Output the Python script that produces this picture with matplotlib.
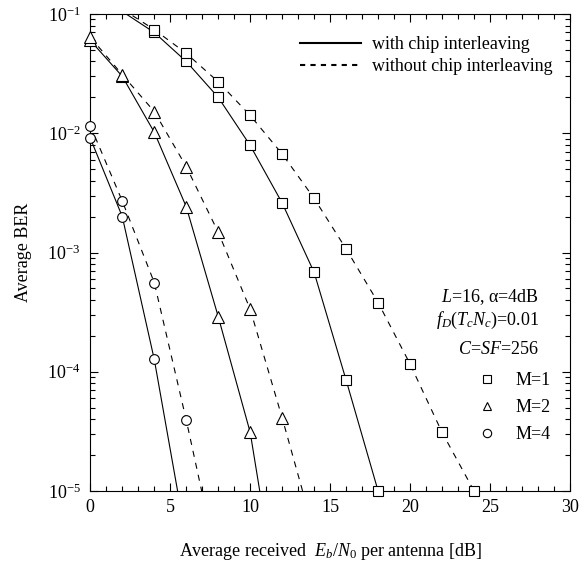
import numpy as np
import matplotlib
matplotlib.use('Agg')
import matplotlib.pyplot as plt
from matplotlib.lines import Line2D
from matplotlib.ticker import LogLocator, MultipleLocator, NullFormatter

plt.rcParams['font.family'] = ['Liberation Serif', 'DejaVu Serif']
plt.rcParams['mathtext.fontset'] = 'custom'
plt.rcParams['mathtext.rm'] = 'Liberation Serif'
plt.rcParams['mathtext.it'] = 'Liberation Serif:italic'
plt.rcParams['font.size'] = 13

# BER curves (Eb/N0 in dB)
m1_with_x = [2, 4, 6, 8, 10, 12, 14, 16, 18]
m1_with = [0.105, 0.070, 0.040, 0.020, 0.0079, 0.0026, 0.00068, 8.5e-5, 1e-5]
m1_without_x = [2, 4, 6, 8, 10, 12, 14, 16, 18, 20, 22, 24]
m1_without = [0.11, 0.074, 0.0468, 0.027, 0.0141, 0.0067, 0.00284, 0.00107,
              3.8e-4, 1.16e-4, 3.1e-5, 1e-5]

m2_with_x = [0, 2, 4, 6, 8, 10, 12]
m2_with = [0.060, 0.030, 0.0102, 0.00242, 2.9e-4, 3.1e-5, 7e-7]
m2_without_x = [0, 2, 4, 6, 8, 10, 12, 14]
m2_without = [0.064, 0.031, 0.0152, 0.00525, 0.00148, 3.34e-4, 4.1e-5, 4.5e-6]

m4_with_x = [0, 2, 4, 6]
m4_with = [0.0091, 0.0020, 1.27e-4, 3.9e-6]
m4_without_x = [0, 2, 4, 6, 8]
m4_without = [0.0116, 0.0027, 5.6e-4, 3.94e-5, 2.3e-6]

ymin, ymax = 1e-5, 1e-1

fig = plt.figure(figsize=(5.88, 5.67), dpi=100)
ax = fig.add_axes([90.3 / 588, 76 / 567, 479.7 / 588, 477 / 567])


def curve(x, y, marker, ms, dashed):
    x = np.array(x)
    y = np.array(y)
    ls = '--' if dashed else '-'
    line, = ax.plot(x, y, ls, color='black', lw=0.8)
    if dashed:
        line.set_dashes((5.5, 5.5))
    keep = (y >= ymin * 0.999) & (y <= ymax)
    ax.plot(x[keep], y[keep], ls='none', marker=marker, ms=ms, mfc='white',
            mec='black', mew=0.8, clip_on=False, zorder=3)


curve(m1_with_x, m1_with, 's', 7.5, False)
curve(m1_without_x, m1_without, 's', 7.5, True)
curve(m2_with_x, m2_with, '^', 8, False)
curve(m2_without_x, m2_without, '^', 8, True)
curve(m4_with_x, m4_with, 'o', 7, False)
curve(m4_without_x, m4_without, 'o', 7, True)

ax.set_yscale('log')
ax.set_xlim(0, 30)
ax.set_ylim(ymin, ymax)
ax.xaxis.set_major_locator(MultipleLocator(5))
ax.xaxis.set_minor_locator(MultipleLocator(1))
ax.yaxis.set_major_locator(LogLocator(base=10, numticks=10))
ax.yaxis.set_minor_locator(LogLocator(base=10, subs=np.arange(2, 10), numticks=10))
ax.yaxis.set_minor_formatter(NullFormatter())
ax.tick_params(which='both', direction='in', top=True, right=True, labelsize=13)
ax.tick_params(which='major', length=6, width=0.8)
ax.tick_params(which='minor', length=3.5, width=0.8)
ax.tick_params(axis='x', pad=6)
ax.tick_params(axis='y', pad=7)
for s in ax.spines.values():
    s.set_linewidth(0.8)

ax.set_xlabel('Average received  $E_b/N_0$ per antenna [dB]', fontsize=13, labelpad=18)
ax.set_ylabel('Average BER', fontsize=13, labelpad=11)

# line style legend
h1 = [Line2D([], [], color='black', lw=1.5),
      Line2D([], [], color='black', lw=1.5, dashes=(2.5, 2.5))]
leg1 = ax.legend(h1, ['with chip interleaving', 'without chip interleaving'],
                 loc='upper left', bbox_to_anchor=((300 - 90.3) / 479.7, 1 - 22 / 477),
                 frameon=False, fontsize=13, handlelength=3.4, handletextpad=0.6,
                 borderpad=0, borderaxespad=0, labelspacing=0.3)
ax.add_artist(leg1)

# marker legend
h2 = [Line2D([], [], ls='none', marker='s', ms=6, mfc='white', mec='black', mew=0.8),
      Line2D([], [], ls='none', marker='^', ms=6, mfc='white', mec='black', mew=0.8),
      Line2D([], [], ls='none', marker='o', ms=6, mfc='white', mec='black', mew=0.8)]
ax.legend(h2, ['M=1', 'M=2', 'M=4'], loc='upper left',
          bbox_to_anchor=((478 - 90.3) / 479.7, 1 - (372 - 14) / 477),
          frameon=False, fontsize=13, handlelength=1.0, handletextpad=1.1,
          borderpad=0, borderaxespad=0, labelspacing=0.55)

tx = (539 - 90.3) / 479.7
ax.text(tx, 1 - (297 - 14) / 477, '$L$=16, α=4dB', transform=ax.transAxes,
        ha='right', va='center', fontsize=13)
ax.text(tx, 1 - (320 - 14) / 477, '$f_D(T_cN_c)$=0.01', transform=ax.transAxes,
        ha='right', va='center', fontsize=13)
ax.text(tx, 1 - (350 - 14) / 477, '$C$=$SF$=256', transform=ax.transAxes,
        ha='right', va='center', fontsize=13)

fig.savefig('out.png', dpi=100)
